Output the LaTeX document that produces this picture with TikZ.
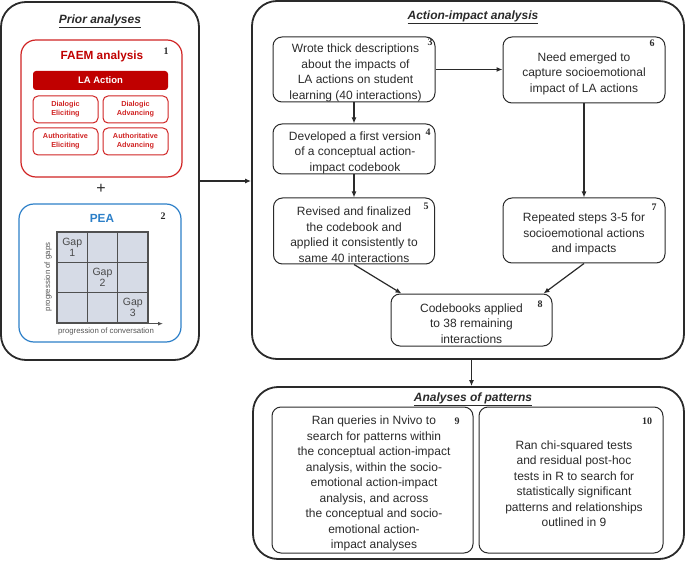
\documentclass[tikz,border=0pt]{standalone}
\usepackage{fontspec}
\setmainfont{Liberation Sans}
\newfontfamily\numfont{Liberation Serif}
\usetikzlibrary{arrows.meta,calc}
\definecolor{dred}{HTML}{C00000}
\definecolor{lred}{HTML}{D02424}
\definecolor{pblue}{HTML}{2C7FC8}
\definecolor{cellfill}{HTML}{D6DBE6}
\definecolor{gridline}{HTML}{505050}
\definecolor{ink}{HTML}{2A2A2A}
\begin{document}
\begin{tikzpicture}[x=1pt,y=-1pt,
  outerbox/.style={draw=ink, line width=1.8pt, rounded corners=25pt, inner sep=0pt},
  stepbox/.style={draw=ink, line width=1pt, rounded corners=9pt, inner sep=0pt},
  steptext/.style={align=center, text=ink, font=\fontsize{12}{15.5}\selectfont, inner sep=0pt},
  numlab/.style={font=\numfont\bfseries\fontsize{10}{10}\selectfont, inner sep=0pt, text=ink},
  titlelab/.style={font=\bfseries\itshape\fontsize{12}{14}\selectfont, text=ink, inner sep=0pt},
  conn/.style={draw=ink, line width=1.2pt, -{Latex[length=6pt,width=5pt]}},
  smallbox/.style={draw=lred, line width=1pt, rounded corners=5pt, minimum width=65pt, minimum height=27pt,
     align=center, text=lred, font=\bfseries\fontsize{7.3}{9}\selectfont, inner sep=0pt},
  cell/.style={draw=gridline, line width=1.4pt, fill=cellfill, minimum size=30.33pt, inner sep=0pt,
     align=center, text=ink!85, font=\fontsize{10.5}{11}\selectfont}
]
\useasboundingbox (0,0) rectangle (685,561);

% outer boxes
\node[outerbox, minimum width=198pt, minimum height=358pt] (prior) at (100,181) {};
\node[outerbox, minimum width=432pt, minimum height=358pt] (aia) at (468,180) {};
\node[outerbox, minimum width=431pt, minimum height=172pt] (pat) at (468.5,473) {};

% titles
\node[titlelab] (tprior) at (100,21) {\underline{Prior analyses}};
\node[titlelab] (taia) at (473,17) {\underline{Action-impact analysis}};
\node[titlelab] (tpat) at (473,399) {\underline{Analyses of patterns}};

% FAEM
\node[draw=lred, line width=1.2pt, rounded corners=15pt, minimum width=161pt, minimum height=137pt, inner sep=0pt] (faem) at (101.5,108.5) {};
\node[text=dred, font=\bfseries\fontsize{11.8}{13}\selectfont, inner sep=0pt] (tfaem) at (102,56) {FAEM analysis};
\node[numlab] (n1) at (166,51) {1};
\node[fill=dred, rounded corners=3pt, minimum width=135pt, minimum height=19pt, inner sep=0pt,
      text=white, font=\bfseries\fontsize{9.5}{11}\selectfont] (laa) at (100.5,80.5) {LA Action};
\node[smallbox] (de) at (65.5,109.5) {Dialogic\\Eliciting};
\node[smallbox] (da) at (135.5,109.5) {Dialogic\\Advancing};
\node[smallbox] (ae) at (65.5,141.5) {Authoritative\\Eliciting};
\node[smallbox] (aa) at (135.5,141.5) {Authoritative\\Advancing};

\node[text=ink, font=\fontsize{16}{16}\selectfont, inner sep=0pt] (plus) at (101,189) {+};

% PEA
\node[draw=pblue, line width=1.2pt, rounded corners=15pt, minimum width=162pt, minimum height=138pt, inner sep=0pt] (pea) at (100,273) {};
\node[text=pblue, font=\bfseries\fontsize{11.8}{13}\selectfont, inner sep=0pt] (tpea) at (102,218) {PEA};
\node[numlab] (n2) at (163,216) {2};

\node[cell] (c11) at (72.2,247.2) {Gap\\1};
\node[cell] (c12) at (102.5,247.2) {};
\node[cell] (c13) at (132.8,247.2) {};
\node[cell] (c21) at (72.2,277.5) {};
\node[cell] (c22) at (102.5,277.5) {Gap\\2};
\node[cell] (c23) at (132.8,277.5) {};
\node[cell] (c31) at (72.2,307.8) {};
\node[cell] (c32) at (102.5,307.8) {};
\node[cell] (c33) at (132.8,307.8) {Gap\\3};
\coordinate (axend) at (163,323);
\draw[draw=gridline, line width=1.4pt, -{Latex[length=5pt,width=4pt]}] (c31.south west) -- (c31.south west -| axend);
\node[text=ink!80, font=\fontsize{7.8}{9}\selectfont, inner sep=0pt] (xlab) at (106,331) {progression of conversation};
\node[text=ink!80, font=\fontsize{7.8}{9}\selectfont, inner sep=0pt, rotate=90] (ylab) at (48,277) {progression of gaps};

% step boxes
\node[stepbox, minimum width=162pt, minimum height=65pt] (b3) at (354,69.5) {};
\node[stepbox, minimum width=162pt, minimum height=50pt] (b4) at (354,149) {};
\node[stepbox, minimum width=161pt, minimum height=66pt] (b5) at (354,231) {};
\node[stepbox, minimum width=162pt, minimum height=66pt] (b6) at (584,70) {};
\node[stepbox, minimum width=162pt, minimum height=65pt] (b7) at (584,230.5) {};
\node[stepbox, minimum width=161pt, minimum height=52pt] (b8) at (471.5,320) {};
\node[stepbox, minimum width=201pt, minimum height=146pt] (b9) at (372.5,480) {};
\node[stepbox, minimum width=184pt, minimum height=146pt] (b10) at (571,480) {};

\node[steptext] (t3) at ([xshift=1.5pt,yshift=-3.5pt]b3.center)
  {Wrote thick descriptions\\about the impacts of\\LA actions on student\\learning (40 interactions)};
\node[steptext] (t4) at ([xshift=1pt,yshift=-3.5pt]b4.center)
  {Developed a first version\\of a conceptual action-\\impact codebook};
\node[steptext] (t5) at ([yshift=-3.5pt]b5.center)
  {Revised and finalized\\the codebook and\\applied it consistently to\\same 40 interactions};
\node[steptext] (t6) at ([yshift=-3.5pt]b6.center)
  {Need emerged to\\capture socioemotional\\impact of LA actions};
\node[steptext] (t7) at ([yshift=-3.5pt]b7.center)
  {Repeated steps 3-5 for\\socioemotional actions\\and impacts};
\node[steptext] (t8) at ([yshift=-3.5pt]b8.center)
  {Codebooks applied\\to 38 remaining\\interactions};
\node[steptext] (t9) at ([xshift=1.5pt,yshift=-3.5pt]b9.center)
  {Ran queries in Nvivo to\\search for patterns within\\the conceptual action-impact\\analysis, within the socio-\\emotional action-impact\\analysis, and across\\the conceptual and socio-\\emotional action-\\impact analyses};
\node[steptext] (t10) at ([xshift=3pt,yshift=-3.5pt]b10.center)
  {Ran chi-squared tests\\and residual post-hoc\\tests in R to search for\\statistically significant\\patterns and relationships\\outlined in 9};

\node[numlab] (n3) at (430,42) {3};
\node[numlab] (n4) at (428,132) {4};
\node[numlab] (n5) at (426,206) {5};
\node[numlab] (n6) at (652,43) {6};
\node[numlab] (n7) at (654,207) {7};
\node[numlab] (n8) at (540,304) {8};
\node[numlab] (n9) at (457,421) {9};
\node[numlab] (n10) at (647,421) {10};

% connectors
\draw[conn] (prior.east) -- (aia.west |- prior.east);
\draw[conn] (b3.east) -- (b6.west |- b3.east);
\draw[conn] (b3.south) -- (b4.north);
\draw[conn] (b4.south) -- (b5.north);
\draw[conn] (b6.south) -- (b7.north);
\draw[conn] (b5.south) -- ([xshift=11pt]b8.north west);
\draw[conn] (b7.south) -- ([xshift=-9pt]b8.north east);
\draw[conn] (b8.south |- aia.south) -- (b8.south |- pat.north);
\end{tikzpicture}
\end{document}
